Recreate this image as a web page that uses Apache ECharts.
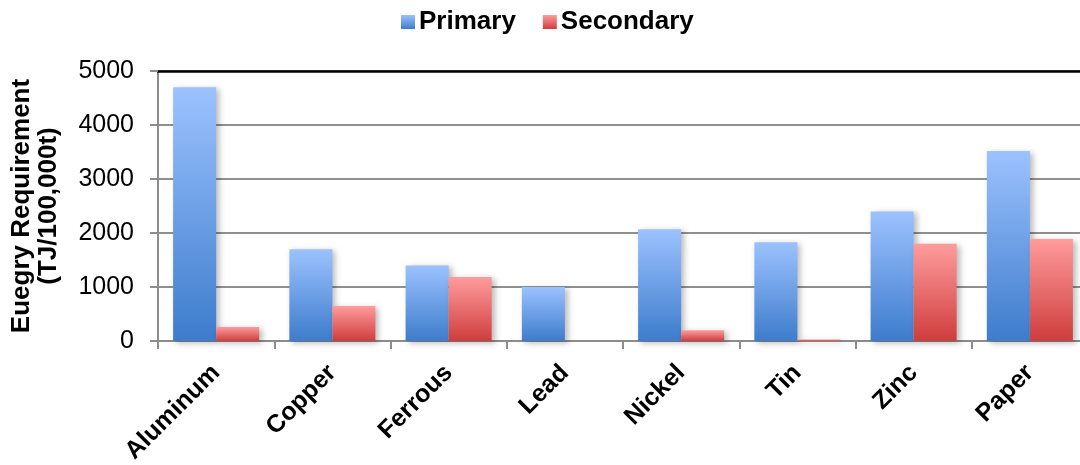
<!DOCTYPE html>
<html>
<head>
<meta charset="utf-8">
<script src="https://cdn.jsdelivr.net/npm/echarts@6/dist/echarts.min.js"></script>
<style>
  html, body { margin: 0; padding: 0; background: #ffffff; }
  #chart { width: 1080px; height: 465px; }
</style>
</head>
<body>
<div id="chart"></div>
<script>
// Energy requirement by material, primary vs. secondary production
const categories = ['Aluminum', 'Copper', 'Ferrous', 'Lead', 'Nickel', 'Tin', 'Zinc', 'Paper'];
const primaryValues = [4700, 1700, 1400, 1000, 2070, 1830, 2400, 3520];
const secondaryValues = [260, 650, 1185, 0, 200, 30, 1800, 1890];
const yTicks = { min: 0, max: 5000, interval: 1000 };

const FONT = '"Liberation Sans", Arial, Helvetica, sans-serif';

function vGrad(top, bottom) {
  return new echarts.graphic.LinearGradient(0, 0, 0, 1, [
    { offset: 0, color: top },
    { offset: 1, color: bottom }
  ]);
}

const blueFill = vGrad('#9cc2ff', '#3d7ccc');
const redFill = vGrad('#ff9c9c', '#cf3d3d');

const barShadow = {
  shadowColor: 'rgba(0,0,0,0.28)',
  shadowBlur: 6,
  shadowOffsetX: 3,
  shadowOffsetY: 2
};

const chart = echarts.init(document.getElementById('chart'), null, { renderer: 'canvas' });

chart.setOption({
  backgroundColor: '#ffffff',
  animation: false,
  textStyle: { fontFamily: FONT },
  legend: {
    left: 396,
    top: 4,
    itemWidth: 14,
    itemHeight: 14,
    itemGap: 27,
    icon: 'rect',
    textStyle: { fontFamily: FONT, fontSize: 26, fontWeight: 'bold', color: '#000', padding: [0, 0, 0, -1] },
    data: [
      { name: 'Primary', itemStyle: { color: blueFill } },
      { name: 'Secondary', itemStyle: { color: redFill } }
    ]
  },
  grid: { left: 158, right: -8, top: 71, bottom: 124, containLabel: false, outerBoundsMode: 'none' },
  xAxis: [
    {
      type: 'category',
      data: categories,
      axisLine: { show: true, lineStyle: { color: '#8c8c8c', width: 2 } },
      axisTick: { show: true, length: 8, alignWithLabel: false, lineStyle: { color: '#8c8c8c', width: 2 } },
      axisLabel: {
        rotate: 45,
        margin: 28,
        fontFamily: FONT,
        fontSize: 25,
        fontWeight: 'bold',
        color: '#000',
        interval: 0
      },
      splitLine: { show: false }
    },
    {
      type: 'category',
      position: 'top',
      data: categories,
      axisLine: { show: true, lineStyle: { color: '#000', width: 2.5 } },
      axisTick: { show: false },
      axisLabel: { show: false }
    }
  ],
  yAxis: {
    type: 'value',
    min: yTicks.min,
    max: yTicks.max,
    interval: yTicks.interval,
    name: 'Euegry Requirement\n(TJ/100,000t)',
    nameLocation: 'middle',
    nameRotate: 90,
    nameGap: 96,
    nameTextStyle: { fontFamily: FONT, fontSize: 26, fontWeight: 'bold', color: '#000', lineHeight: 27, align: 'center' },
    axisLine: { show: true, lineStyle: { color: '#8c8c8c', width: 2 } },
    axisTick: { show: true, length: 8, lineStyle: { color: '#8c8c8c', width: 2 } },
    axisLabel: {
      fontFamily: FONT, fontSize: 25, color: '#000', margin: 24,
      formatter: function (v) { return String(v); }
    },
    splitLine: { show: true, lineStyle: { color: '#8f8f8f', width: 2 } }
  },
  series: [
    {
      name: 'Primary',
      type: 'bar',
      data: primaryValues,
      barGap: '0%',
      barCategoryGap: '26%',
      itemStyle: Object.assign({ color: blueFill }, barShadow)
    },
    {
      name: 'Secondary',
      type: 'bar',
      data: secondaryValues,
      barGap: '0%',
      barCategoryGap: '26%',
      itemStyle: Object.assign({ color: redFill }, barShadow)
    }
  ]
});
</script>
</body>
</html>
